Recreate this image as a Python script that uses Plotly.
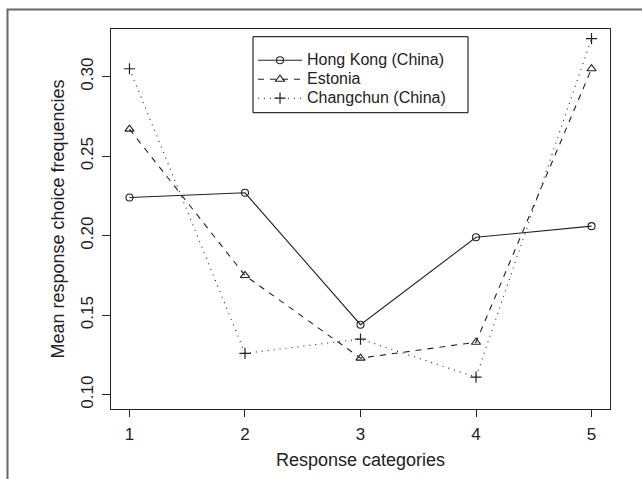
import plotly.graph_objects as go

categories = [1, 2, 3, 4, 5]
hong_kong = [0.224, 0.227, 0.144, 0.199, 0.206]
estonia = [0.267, 0.175, 0.123, 0.133, 0.305]
changchun = [0.305, 0.126, 0.135, 0.111, 0.324]

series_names = ["Hong Kong (China)", "Estonia", "Changchun (China)"]
y_tickvals = [0.10, 0.15, 0.20, 0.25, 0.30]
y_ticktext = ["0.10", "0.15", "0.20", "0.25", "0.30"]

FONT = "Liberation Sans, Arial, Helvetica, sans-serif"
INK = "#222222"


def legend_label(name):
    return '<span style="font-size:16px">' + name + "</span>"


fig = go.Figure()
fig.add_trace(go.Scatter(
    x=categories, y=hong_kong, mode="lines+markers", name=legend_label(series_names[0]),
    line=dict(color=INK, width=1.1, dash="solid"),
    marker=dict(symbol="circle-open", size=7, color=INK, line=dict(width=1.1, color=INK)),
))
fig.add_trace(go.Scatter(
    x=categories, y=estonia, mode="lines+markers", name=legend_label(series_names[1]),
    line=dict(color=INK, width=1.1, dash="6px,6px"),
    marker=dict(symbol="triangle-up-open", size=8, color=INK, line=dict(width=1.1, color=INK)),
))
fig.add_trace(go.Scatter(
    x=categories, y=changchun, mode="lines+markers", name=legend_label(series_names[2]),
    line=dict(color=INK, width=1.1, dash="1px,5px"),
    marker=dict(symbol="cross-thin-open", size=8, color=INK, line=dict(width=1.2, color=INK)),
))

# outer frame around the figure (extends past the image on right/bottom)
fig.add_shape(type="rect", xref="paper", yref="paper",
              x0=-0.2074, x1=1.3, y0=-0.4, y1=1.0515,
              line=dict(color="#666666", width=2), layer="below")

# legend frame
fig.add_shape(type="rect", xref="paper", yref="paper",
              x0=0.2846, x1=0.7154, y0=0.7797, y1=0.9797,
              line=dict(color="black", width=1), fillcolor="white", layer="above")

fig.update_layout(
    width=642, height=479, autosize=False,
    margin=dict(l=111, r=32, t=29, b=70, pad=0),
    paper_bgcolor="white", plot_bgcolor="white",
    font=dict(family=FONT, size=17, color=INK),
    showlegend=True,
    legend=dict(
        x=0.2846, y=0.956, xanchor="left", yanchor="top",
        borderwidth=0, bgcolor="rgba(0,0,0,0)",
        font=dict(family=FONT, size=12.3, color=INK),
        tracegroupgap=0, itemwidth=44,
    ),
    xaxis=dict(
        range=[0.84, 5.16], tickvals=categories, ticktext=[str(c) for c in categories],
        ticks="outside", ticklen=7, tickcolor=INK, tickwidth=1,
        showline=True, mirror=True, linecolor=INK, linewidth=1,
        showgrid=False, zeroline=False,
        ticklabelstandoff=3,
        tickfont=dict(size=17, color=INK),
        title=dict(text="Response categories", font=dict(size=18, color=INK), standoff=9),
    ),
    yaxis=dict(
        range=[0.091, 0.330], tickvals=y_tickvals, ticktext=y_ticktext,
        tickangle=-90,
        ticks="outside", ticklen=8, tickcolor=INK, tickwidth=1,
        showline=True, mirror=True, linecolor=INK, linewidth=1,
        showgrid=False, zeroline=False,
        ticklabelstandoff=2,
        tickfont=dict(size=17, color=INK),
        title=dict(text="Mean response choice frequencies", font=dict(size=18, color=INK), standoff=8),
    ),
)

fig.write_html("out.html", config={"displayModeBar": False},
               post_script="document.body.style.margin='0';")
